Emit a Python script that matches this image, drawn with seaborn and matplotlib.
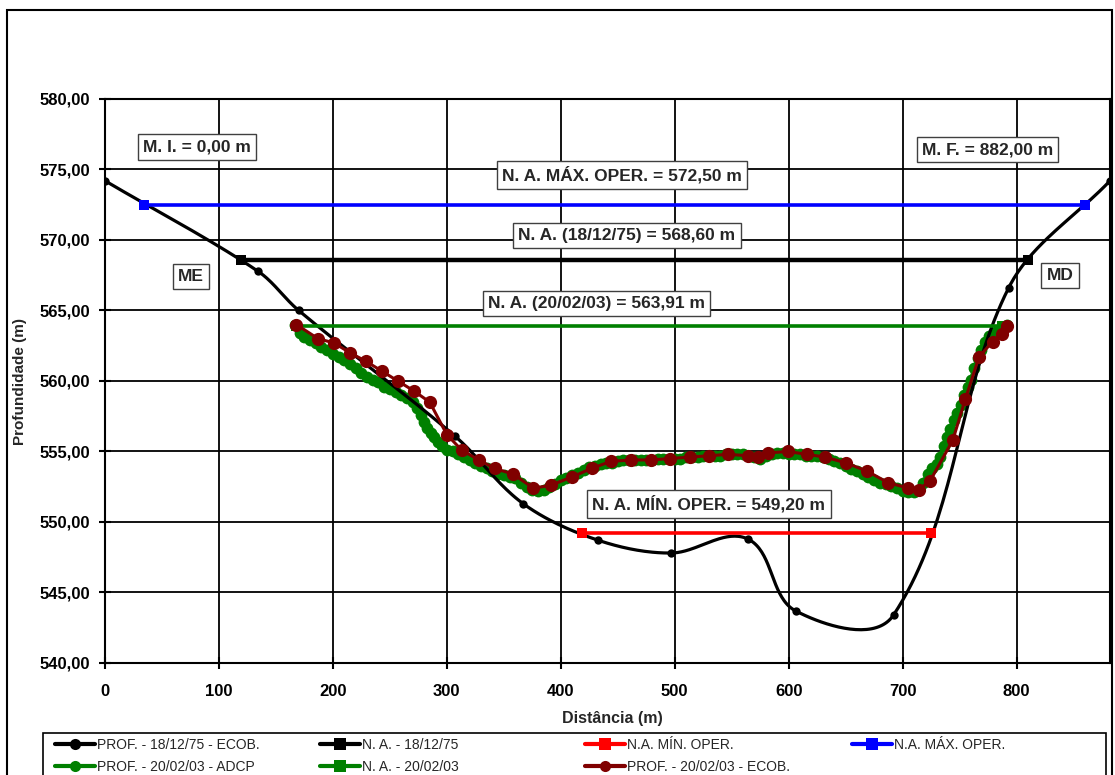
import numpy as np
import matplotlib
matplotlib.use("Agg")
import matplotlib.pyplot as plt
from matplotlib.lines import Line2D
from matplotlib.patches import Rectangle
from matplotlib.ticker import FuncFormatter
import seaborn as sns

sns.set_style("white")
plt.rcParams["font.family"] = ["Liberation Sans", "DejaVu Sans"]

# --- Section survey 18/12/75 (echo sounder) ---
prof75_x = [0, 134, 170, 307, 367, 433, 497, 564, 606, 692, 793, 882]
prof75_y = [574.2, 567.8, 565.0, 556.1, 551.3, 548.7, 547.8, 548.8, 543.7, 543.4, 566.6, 574.2]

# --- Section survey 20/02/03 (ADCP) ---
adcp_x = [167, 171, 175, 180, 185, 190, 195, 200, 205, 210, 215, 220, 225, 230, 235,
          240, 245, 250, 255, 260, 265, 270, 274, 277, 280, 283, 286, 289, 292, 296,
          300, 305, 310, 315, 320, 325, 330, 335, 340, 345, 350, 355, 360, 365, 370,
          375, 380, 385, 390, 395, 400, 405, 410, 415, 420, 425, 430, 435, 440, 445,
          450, 455, 460, 465, 470, 475, 480, 485, 490, 495, 500, 505, 510, 515, 520,
          525, 530, 535, 540, 545, 550, 555, 560, 565, 570, 575, 580, 585, 590, 595,
          600, 605, 610, 615, 620, 625, 630, 635, 640, 645, 650, 655, 660, 665, 670,
          675, 680, 685, 690, 695, 700, 705, 710, 714, 718, 722, 726, 730, 733, 736,
          739, 742, 745, 748, 751, 754, 757, 760, 763, 766, 769, 772, 776, 780, 784,
          788, 792]
adcp_y = [564.0, 563.4, 563.1, 562.9, 562.7, 562.4, 562.2, 561.9, 561.7, 561.5, 561.2,
          560.9, 560.6, 560.3, 560.1, 559.9, 559.6, 559.4, 559.2, 559.0, 558.8, 558.5,
          558.1, 557.6, 557.1, 556.7, 556.3, 556.0, 555.7, 555.4, 555.1, 555.0, 554.8,
          554.6, 554.4, 554.2, 554.0, 553.8, 553.6, 553.4, 553.3, 553.2, 553.1, 552.8,
          552.5, 552.3, 552.2, 552.3, 552.5, 552.7, 553.0, 553.1, 553.3, 553.5, 553.7,
          553.9, 554.0, 554.1, 554.2, 554.2, 554.3, 554.4, 554.4, 554.4, 554.4, 554.4,
          554.4, 554.5, 554.5, 554.5, 554.5, 554.5, 554.6, 554.6, 554.6, 554.7, 554.7,
          554.7, 554.7, 554.8, 554.8, 554.8, 554.8, 554.7, 554.6, 554.5, 554.7, 554.85,
          554.9, 554.9, 554.85, 554.8, 554.8, 554.7, 554.7, 554.65, 554.6, 554.5, 554.35,
          554.2, 554.0, 553.75, 553.6, 553.4, 553.2, 553.0, 552.8, 552.7, 552.55, 552.4,
          552.2, 552.15, 552.1, 552.3, 552.8, 553.4, 553.8, 554.1, 554.6, 555.4, 556.0,
          556.6, 557.2, 557.7, 558.3, 559.0, 559.6, 560.1, 560.9, 561.6, 562.2, 562.8,
          563.2, 563.4, 563.6, 563.8, 564.0]

# --- Section survey 20/02/03 (echo sounder) ---
ecob03_x = [168, 187, 201, 215, 229, 243, 257, 271, 285, 300, 313, 328, 342, 358, 376,
            391, 410, 427, 444, 462, 479, 496, 513, 530, 547, 564, 573, 582, 599, 616,
            632, 650, 669, 687, 705, 714, 724, 744, 755, 767, 779, 787, 792]
ecob03_y = [564.0, 563.0, 562.7, 562.0, 561.4, 560.7, 560.0, 559.3, 558.5, 556.2, 555.1,
            554.4, 553.8, 553.4, 552.4, 552.6, 553.2, 553.8, 554.3, 554.4, 554.4, 554.5,
            554.6, 554.7, 554.8, 554.7, 554.6, 554.9, 555.0, 554.8, 554.6, 554.2, 553.6,
            552.8, 552.4, 552.3, 552.9, 555.8, 558.7, 561.7, 562.8, 563.3, 563.9]

# --- Water levels: [x_start, x_end], level ---
na75_x, na75_level = [119, 810], 568.60
na03_x, na03_level = [168, 787], 563.91
namin_x, namin_level = [419, 725], 549.20
namax_x, namax_level = [34, 860], 572.50

x_ticks = [0, 100, 200, 300, 400, 500, 600, 700, 800]
y_ticks = [540, 545, 550, 555, 560, 565, 570, 575, 580]

W, H = 1115, 775
AX_L, AX_R, AX_T, AX_B = 105, 1110, 99, 663
X0, X1, Y0, Y1 = 0, 882, 540, 580


def smooth_curve(xs, ys, n=40):
    """Smoothed line through every point: cubic Bezier segments whose tangents
    follow the neighbouring points, computed in screen proportions."""
    sx = (AX_R - AX_L) / (X1 - X0)
    sy = (AX_B - AX_T) / (Y1 - Y0)
    p = np.column_stack([np.asarray(xs, float) * sx, np.asarray(ys, float) * sy])
    m = np.empty_like(p)
    m[0] = p[1] - p[0]
    m[-1] = p[-1] - p[-2]
    m[1:-1] = p[2:] - p[:-2]
    u = m / np.linalg.norm(m, axis=1)[:, None]
    t = np.linspace(0, 1, n)[1:, None]
    out = [p[0]]
    for i in range(len(p) - 1):
        d = np.linalg.norm(p[i + 1] - p[i])
        c1 = p[i] + u[i] * d / 3.0
        c2 = p[i + 1] - u[i + 1] * d / 3.0
        seg = ((1 - t) ** 3) * p[i] + 3 * ((1 - t) ** 2) * t * c1 \
            + 3 * (1 - t) * t ** 2 * c2 + t ** 3 * p[i + 1]
        out.extend(seg)
    out = np.array(out)
    return out[:, 0] / sx, out[:, 1] / sy


fig = plt.figure(figsize=(W / 100, H / 100), dpi=100)
ax = fig.add_axes([AX_L / W, 1 - AX_B / H, (AX_R - AX_L) / W, (AX_B - AX_T) / H])

GREEN = "#008000"
DRED = "#800000"
BLUE = "#0000FF"
RED = "#FF0000"

# ADCP profile (dense points)
sns.lineplot(x=adcp_x, y=adcp_y, ax=ax, color=GREEN, linewidth=3, marker="o",
             markersize=8.5, markeredgewidth=0, sort=False, zorder=3)

# 1975 profile: smoothed curve + survey points
cx, cy = smooth_curve(prof75_x, prof75_y)
sns.lineplot(x=cx, y=cy, ax=ax, color="black", linewidth=2.3, sort=False,
             estimator=None, zorder=4)
sns.scatterplot(x=prof75_x, y=prof75_y, ax=ax, color="black", s=36, linewidth=0, zorder=4.1)

# 2003 echo-sounder profile
sns.lineplot(x=ecob03_x, y=ecob03_y, ax=ax, color=DRED, linewidth=2.2, marker="o",
             markersize=9.5, markeredgewidth=0, sort=False, zorder=5)

# Water levels
for xs, lvl, col, lw in [(namax_x, namax_level, BLUE, 2.6),
                         (na75_x, na75_level, "black", 3.2),
                         (na03_x, na03_level, GREEN, 2.6),
                         (namin_x, namin_level, RED, 2.6)]:
    sns.lineplot(x=xs, y=[lvl, lvl], ax=ax, color=col, linewidth=lw, marker="s",
                 markersize=7.5, markeredgewidth=0, zorder=4.5)

ax.set_xlim(X0, X1)
ax.set_ylim(Y0, Y1)
ax.set_xticks(x_ticks)
ax.set_yticks(y_ticks)
ax.yaxis.set_major_formatter(FuncFormatter(lambda v, p: f"{v:.2f}".replace(".", ",")))
ax.grid(True, color="black", linewidth=1.3)
ax.set_axisbelow(True)
for s in ax.spines.values():
    s.set_color("black")
    s.set_linewidth(1.5)
ax.tick_params(axis="both", which="major", direction="inout", length=8, width=1.5,
               labelsize=12, colors="black", left=True, bottom=True)
ax.tick_params(axis="y", pad=7)
ax.tick_params(axis="x", pad=11)
for lab in ax.get_xticklabels() + ax.get_yticklabels():
    lab.set_fontweight("bold")
ax.set_xlabel("")
ax.set_ylabel("")

fig.text(612 / W, 1 - 718 / H, "Distância (m)", ha="center", va="center",
         fontsize=11.5, fontweight="bold")
fig.text(20 / W, 1 - 381 / H, "Profundidade (m)", ha="center", va="center",
         rotation=90, fontsize=11, fontweight="bold")

box = dict(boxstyle="square,pad=0.3", fc="white", ec="#404040", lw=1)
notes = [
    (80.7, 576.6, "M. I. = 0,00 m"),
    (774.6, 576.4, "M. F. = 882,00 m"),
    (454, 574.6, "N. A. MÁX. OPER. = 572,50 m"),
    (458, 570.3, "N. A. (18/12/75) = 568,60 m"),
    (431.5, 565.5, "N. A. (20/02/03) = 563,91 m"),
    (530, 551.3, "N. A. MÍN. OPER. = 549,20 m"),
    (75.4, 567.4, "ME"),
    (838, 567.5, "MD"),
]
for x, y, t in notes:
    ax.text(x, y, t, ha="center", va="center", fontsize=12.5, fontweight="bold",
            bbox=box, zorder=6)

# Figure frame and legend frame
fig.add_artist(Rectangle((7 / W, -0.1), (1112 - 7) / W, 1.1 - 10 / H, transform=fig.transFigure,
                         fill=False, ec="black", lw=1.5, clip_on=False))
fig.add_artist(Rectangle((43 / W, -0.1), (1106 - 43) / W, 0.1 + (775 - 733) / H,
                         transform=fig.transFigure, fill=False, ec="black", lw=1.2,
                         clip_on=False))


def handle(color, marker, lw=3, ms=8):
    return Line2D([], [], color=color, lw=lw, marker=marker, markersize=ms, markeredgewidth=0)


columns = [
    (55, [(handle("black", "o"), "PROF. - 18/12/75 - ECOB."),
          (handle(GREEN, "o"), "PROF. - 20/02/03 - ADCP")]),
    (320, [(handle("black", "s"), "N. A. - 18/12/75"),
           (handle(GREEN, "s"), "N. A. - 20/02/03")]),
    (585, [(handle(RED, "s"), "N.A. MÍN. OPER."),
           (handle(DRED, "o"), "PROF. - 20/02/03 - ECOB.")]),
    (852, [(handle(BLUE, "s"), "N.A. MÁX. OPER.")]),
]
for xpos, entries in columns:
    fig.legend([e[0] for e in entries], [e[1] for e in entries], loc="upper left",
               bbox_to_anchor=(xpos / W, 1 - 738 / H), bbox_transform=fig.transFigure,
               frameon=False, fontsize=10, handlelength=2.9, handletextpad=0.1,
               borderpad=0, borderaxespad=0, labelspacing=0.6)

fig.savefig("out.png", dpi=100, facecolor="white")
